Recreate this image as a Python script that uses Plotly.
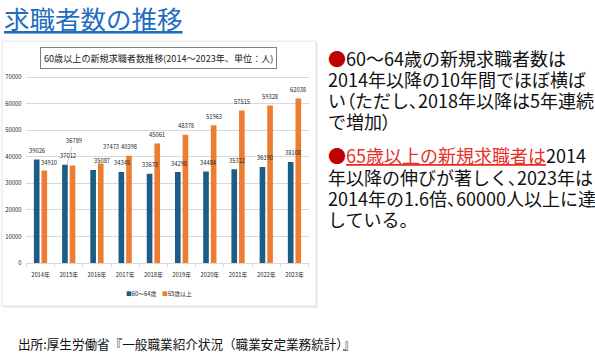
import plotly.graph_objects as go

# ---- data ----
years = ['2014年', '2015年', '2016年', '2017年', '2018年',
         '2019年', '2020年', '2021年', '2022年', '2023年']
age_60_64 = [39026, 37012, 35087, 34345, 33678, 34298, 34484, 35312, 36190, 38108]
age_65_plus = [34910, 36789, 37473, 40398, 45061, 48378, 51963, 57515, 59328, 62038]
series_names = ['60～64歳', '65歳以上']
y_ticks = [0, 10000, 20000, 30000, 40000, 50000, 60000, 70000]

# ---- styling ----
W, H = 595, 354
BLUE = '#1d5c84'
ORANGE = '#ed7d31'
JP = 'Noto Sans CJK JP'
fx = lambda x: x / W
fy = lambda y: 1 - y / H

fig = go.Figure()
fig.add_trace(go.Bar(x=years, y=age_60_64, name=series_names[0], marker_color=BLUE,
                     marker_line_width=0))
fig.add_trace(go.Bar(x=years, y=age_65_plus, name=series_names[1], marker_color=ORANGE,
                     marker_line_width=0))

ann = []
# data labels (pixel nudges are styling only)
blue_dx = {'2014年': -4, '2016年': 5, '2017年': -3, '2018年': -3, '2019年': -3}
orange_dx = {'2014年': 8.5, '2016年': 14}
orange_dy = {'2014年': 8, '2016年': 17}
lab_font = dict(family=JP, size=5.8, color='#262626')
for cat, v in zip(years, age_60_64):
    ann.append(dict(x=cat, y=v, xref='x', yref='y', text=str(v), showarrow=False,
                    xanchor='center', yanchor='middle',
                    xshift=blue_dx.get(cat, -1), yshift=9, font=lab_font))
for cat, v in zip(years, age_65_plus):
    if cat == '2015年':
        ann.append(dict(x=cat, y=v, xref='x', yref='y', text=str(v), showarrow=True,
                        arrowhead=0, arrowwidth=0.6, arrowcolor='#a6a6a6',
                        ax=7, ay=-25, xshift=-2, standoff=0, font=lab_font))
    else:
        ann.append(dict(x=cat, y=v, xref='x', yref='y', text=str(v), showarrow=False,
                        xanchor='center', yanchor='middle',
                        xshift=orange_dx.get(cat, 4), yshift=orange_dy.get(cat, 9),
                        font=lab_font))

# chart title box
ann.append(dict(x=fx(158), y=fy(55), xref='paper', yref='paper', showarrow=False,
                xanchor='center', yanchor='middle',
                text='60歳以上の新規求職者数推移(2014～2023年、単位：人)',
                font=dict(family=JP, size=9.1, color='#1a1a1a'),
                bordercolor='#7f7f7f', borderwidth=1, borderpad=3, bgcolor='white'))

# legend (manual)
ann.append(dict(x=fx(159), y=fy(296), xref='paper', yref='paper', showarrow=False,
                xanchor='center', yanchor='middle',
                text=(f"<span style='color:{BLUE}'>■</span>{series_names[0]}　"
                      f"<span style='color:{ORANGE}'>■</span>{series_names[1]}"),
                font=lab_font))

# page title
ann.append(dict(x=fx(2), y=fy(14), xref='paper', yref='paper', showarrow=False,
                xanchor='left', yanchor='middle', text='<u>求職者数の推移</u>',
                font=dict(family=JP, size=25.5, color='#1f6dbf')))


# right-hand text (proportional punctuation via 'palt')
def palt(s):
    for ch in '、（）':
        s = s.replace(ch, "<span style=\"font-feature-settings:'palt'\">" + ch + "</span>")
    return s


RED = '#c00000'
lines = [
    (55, f"<span style='color:{RED}'>●</span>60～64歳の新規求職者数は"),
    (76.7, "2014年以降の10年間でほぼ横ば"),
    (98.3, palt("い（ただし、2018年以降は5年連続")),
    (119.3, palt("で増加）")),
    (155, f"<span style='color:{RED}'>●</span><span style='color:#e8302a'><u>65歳以上の新規求職者は</u></span>2014"),
    (176.7, palt("年以降の伸びが著しく、2023年は")),
    (198.3, palt("2014年の1.6倍、60000人以上に達")),
    (220, "している。"),
]
for yy, t in lines:
    ann.append(dict(x=fx(326), y=fy(yy), xref='paper', yref='paper', showarrow=False,
                    xanchor='left', yanchor='middle', text=t,
                    font=dict(family=JP, size=18, color='#111111')))

# source
ann.append(dict(x=fx(16), y=fy(347), xref='paper', yref='paper', showarrow=False,
                xanchor='left', yanchor='middle',
                text='出所:厚生労働省『一般職業紹介状況（職業安定業務統計）』',
                font=dict(family=JP, size=12.6, color='#111111')))

shapes = [
    dict(type='rect', xref='paper', yref='paper', x0=fx(4), x1=fx(318), y0=fy(311), y1=fy(40),
         fillcolor='#eeeeee', line=dict(width=0), layer='below'),
    dict(type='rect', xref='paper', yref='paper', x0=fx(2), x1=fx(316), y0=fy(309), y1=fy(38),
         fillcolor='white', line=dict(color='#e3e3e3', width=1), layer='below'),
]

fig.update_layout(
    width=W, height=H, margin=dict(l=0, r=0, t=0, b=0),
    paper_bgcolor='white', plot_bgcolor='rgba(0,0,0,0)',
    showlegend=False, barmode='group', bargap=0.46, bargroupgap=0.26,
    annotations=ann, shapes=shapes,
    font=dict(family=JP),
    xaxis=dict(domain=[fx(26.4), fx(308.6)], type='category', showline=True,
               linecolor='#d9d9d9', linewidth=1, ticks='outside', tickson='boundaries',
               ticklen=3, tickcolor='#d9d9d9', showgrid=False,
               tickfont=dict(family=JP, size=5.8, color='#262626'), ticklabelstandoff=6),
    yaxis=dict(domain=[fy(265), fy(265 - 70500 / 10000 * 190 / 7)], range=[0, 70500],
               tickvals=y_ticks, ticktext=[str(v) for v in y_ticks],
               gridcolor='#d9d9d9', gridwidth=0.8, showline=False, zeroline=False,
               tickfont=dict(family=JP, size=5.8, color='#262626'), ticklabelstandoff=4),
)

fig.write_html('out.html')
